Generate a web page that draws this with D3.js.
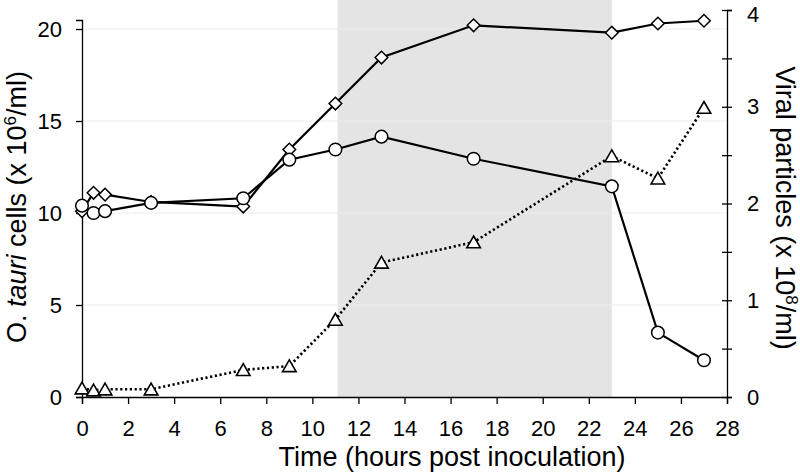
<!DOCTYPE html>
<html><head><meta charset="utf-8">
<script src="https://cdn.jsdelivr.net/npm/d3@7"></script>
<style>body{margin:0;background:#fff}svg{display:block}text{font-family:"Liberation Sans",Arial,sans-serif;fill:#000}</style>
</head><body>
<svg id="c" width="800" height="476"></svg>
<script>
const time = [0, 0.5, 1, 3, 7, 9, 11, 13, 17, 23, 25, 27];
const cellsCircle = [10.4, 10.0, 10.1, 10.55, 10.8, 12.9, 13.45, 14.15, 12.95, 11.45, 3.5, 2.0];
const cellsDiamond = [10.1, 11.1, 11.0, 10.6, 10.35, 13.45, 15.95, 18.45, 20.2, 19.8, 20.3, 20.45];
const viral = [0.09, 0.07, 0.08, 0.08, 0.28, 0.32, 0.8, 1.39, 1.6, 2.49, 2.26, 2.99];
const xTicks = [0,2,4,6,8,10,12,14,16,18,20,22,24,26,28];
const yLeftTicks = [0,5,10,15,20];
const yRightTicks = [0,0.5,1,1.5,2,2.5,3,3.5,4];
const yRightLabels = [0,1,2,3,4];
const shadeRange = [11.1, 23];

const svg = d3.select("#c");
const x = d3.scaleLinear().domain([0,28]).range([82,727]);
const yL = d3.scaleLinear().domain([0,20.49]).range([397,20]);
const yR = d3.scaleLinear().domain([0,4]).range([397,10]);

// shading
svg.append("rect").attr("x", x(shadeRange[0])).attr("y", 0)
  .attr("width", x(shadeRange[1]) - x(shadeRange[0])).attr("height", yL(0))
  .attr("fill", "#e4e4e4");

// faint gridlines
svg.append("g").selectAll("line").data(yLeftTicks.filter(d=>d>0)).join("line")
  .attr("x1", x(0)).attr("x2", x(28)).attr("y1", d=>yL(d)).attr("y2", d=>yL(d))
  .attr("stroke", "#ececec").attr("stroke-width", 1);

// axes
const fs = 22;
const gx = svg.append("g").attr("transform", `translate(0,${yL(0)})`)
  .call(d3.axisBottom(x).tickValues(xTicks).tickFormat(d3.format("d")).tickSizeOuter(0).tickSize(7).tickPadding(16));
const gl = svg.append("g").attr("transform", `translate(${x(0)},0)`)
  .call(d3.axisLeft(yL).tickValues(yLeftTicks).tickSizeOuter(0).tickSize(6).tickPadding(14));
const gr = svg.append("g").attr("transform", `translate(${x(28)},0)`)
  .call(d3.axisRight(yR).tickValues(yRightTicks).tickFormat(d => yRightLabels.includes(d) ? d3.format("d")(d) : "").tickSizeOuter(0).tickSize(5).tickPadding(15));
gr.selectAll(".tick line").attr("x1", -5);
gr.selectAll(".tick text").filter(d => d === 4).attr("dy", "0.5em");
[gx, gl, gr].forEach(g => {
  g.selectAll("path.domain").attr("stroke", "#000").attr("stroke-width", 1.3);
  g.selectAll(".tick line").attr("stroke", "#000").attr("stroke-width", 1.3);
  g.selectAll("text").attr("font-size", fs).attr("font-family", '"Liberation Sans",Arial,sans-serif').attr("fill", "#000");
});

// lines
const pts = vals => vals.map((v,i)=>[time[i], v]);
const lineL = d3.line().x(d=>x(d[0])).y(d=>yL(d[1]));
const lineR = d3.line().x(d=>x(d[0])).y(d=>yR(d[1]));
svg.append("path").attr("d", lineR(pts(viral))).attr("fill","none").attr("stroke","#000")
  .attr("stroke-width", 2.6).attr("stroke-dasharray", "2.2,2.6");
svg.append("path").attr("d", lineL(pts(cellsDiamond))).attr("fill","none").attr("stroke","#000").attr("stroke-width", 2.2);
svg.append("path").attr("d", lineL(pts(cellsCircle))).attr("fill","none").attr("stroke","#000").attr("stroke-width", 2.2);

// markers
const diamond = "M0,-6.3L6.3,0L0,6.3L-6.3,0Z";
const tri = "M0,-6.2L6.8,5.6L-6.8,5.6Z";
svg.append("g").selectAll("path").data(pts(viral)).join("path")
  .attr("d", tri).attr("transform", d=>`translate(${x(d[0])},${yR(d[1])})`)
  .attr("fill","#fff").attr("stroke","#000").attr("stroke-width",1.6);
svg.append("g").selectAll("path").data(pts(cellsDiamond)).join("path")
  .attr("d", diamond).attr("transform", d=>`translate(${x(d[0])},${yL(d[1])})`)
  .attr("fill","#fff").attr("stroke","#000").attr("stroke-width",1.5);
svg.append("g").selectAll("circle").data(pts(cellsCircle)).join("circle")
  .attr("cx", d=>x(d[0])).attr("cy", d=>yL(d[1])).attr("r", 6.3)
  .attr("fill","#fff").attr("stroke","#000").attr("stroke-width",1.5);

// titles
const tfs = 27;
svg.append("text").attr("x", 452).attr("y", 466).attr("text-anchor","middle").attr("font-size", tfs)
  .text("Time (hours post inoculation)");
const lt = svg.append("text").attr("transform","translate(26,207) rotate(-90)").attr("text-anchor","middle").attr("font-size", tfs);
lt.append("tspan").text("O. ");
lt.append("tspan").attr("font-style","italic").text("tauri");
lt.append("tspan").text(" cells (x 10");
lt.append("tspan").attr("font-size", 17).attr("dy", -10).text("6");
lt.append("tspan").attr("dy", 10).text("/ml)");
const rt = svg.append("text").attr("transform","translate(776,208) rotate(90)").attr("text-anchor","middle").attr("font-size", tfs);
rt.append("tspan").text("Viral particles (x 10");
rt.append("tspan").attr("font-size", 17).attr("dy", -10).text("8");
rt.append("tspan").attr("dy", 10).text("/ml)");
</script>
</body></html>
